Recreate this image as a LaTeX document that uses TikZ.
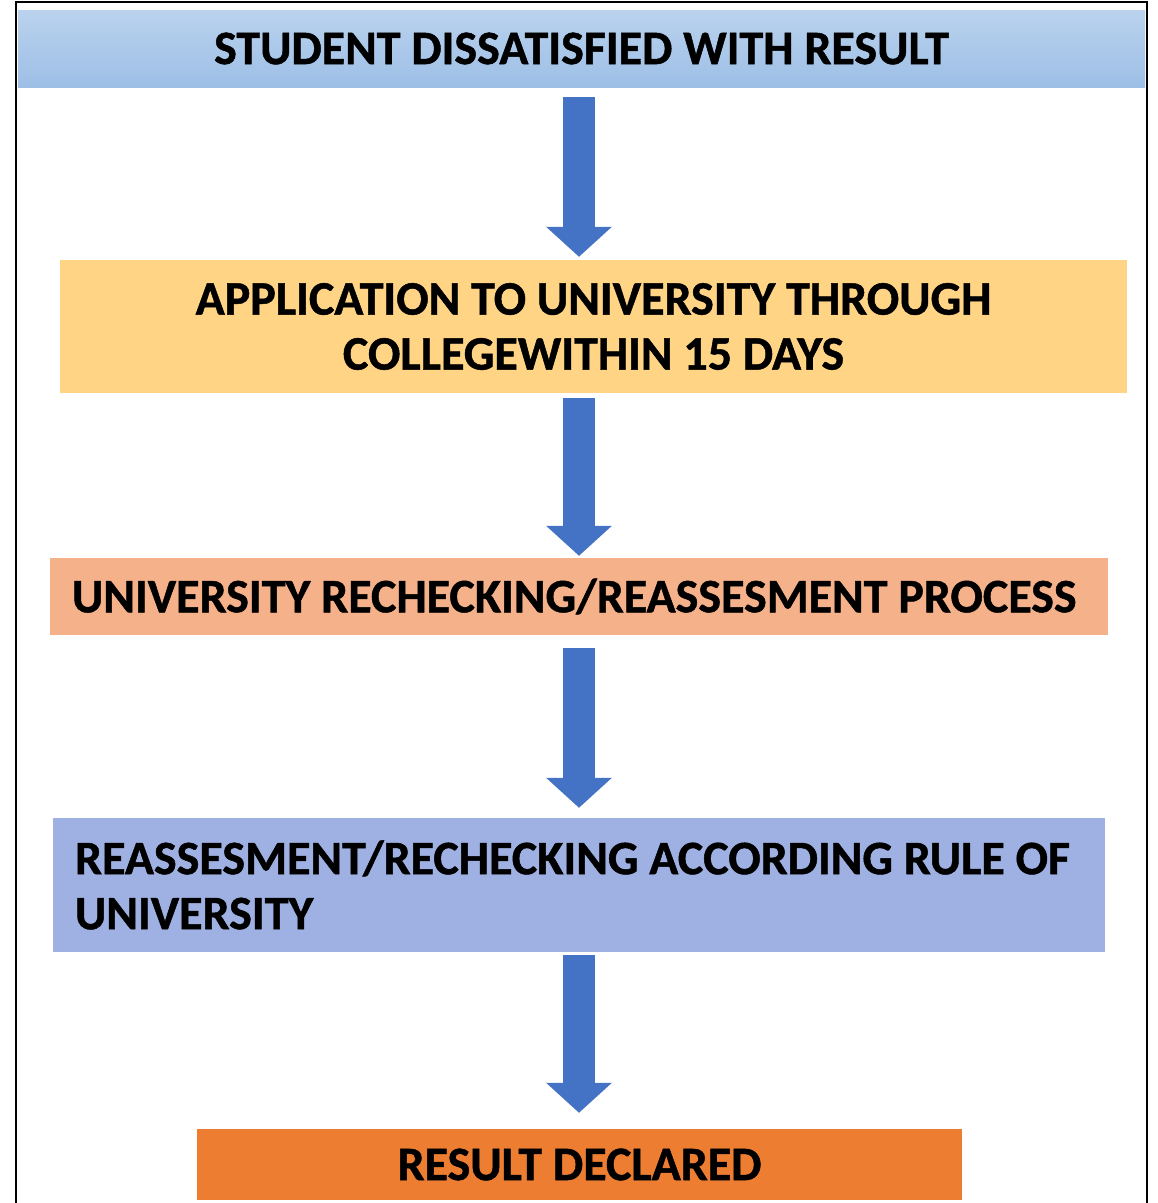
\documentclass[tikz,border=0pt]{standalone}
\usepackage{fontspec}
\setmainfont{Carlito}
\newfontfamily\stagefont{Carlito Bold}[FakeBold=1]
\usepackage{xcolor}
\usetikzlibrary{arrows.meta}
\usetikzlibrary{positioning, calc}

\definecolor{boxblue}{HTML}{9DBFE6}
\definecolor{boxyellow}{HTML}{FFD485}
\definecolor{boxsalmon}{HTML}{F5B189}
\definecolor{boxlavender}{HTML}{9FB0E2}
\definecolor{boxorange}{HTML}{ED7D31}
\definecolor{arrowblue}{HTML}{4472C4}

\begin{document}
\begin{tikzpicture}[x=1pt, y=-1pt,
        stage/.style={rectangle, inner sep=0pt, font=\fontsize{48}{55}\stagefont, text=black},
        flowarrow/.style={draw=arrowblue, line width=32pt, -{Triangle[width=64pt, length=30pt]}, arrowblue}]
        \useasboundingbox (0,0) rectangle (1158,1203);
        \fill[white] (0,0) rectangle (1158,1203);
        \draw[line width=2pt] (16,1203) |- (1147,2) -- (1147,1203);
        \coordinate (axis) at (579,0);

        \node[stage, top color=boxblue!70!white, bottom color=boxblue, minimum width=1127pt, minimum height=77pt] (dissatisfied) at (581.5,48.5) {STUDENT DISSATISFIED WITH RESULT};
        \node[stage, fill=boxyellow, minimum width=1067pt, minimum height=133pt, align=center] (application) at (593.5,326.5) {APPLICATION TO UNIVERSITY THROUGH\\COLLEGEWITHIN 15 DAYS};
        \node[stage, fill=boxsalmon, minimum width=1058pt, minimum height=77pt, text width=1014pt, inner xsep=22pt, align=flush left] (rechecking) at (579,596.5) {UNIVERSITY RECHECKING/REASSESMENT PROCESS};
        \node[stage, fill=boxlavender, minimum width=1052pt, minimum height=134pt, text width=1008pt, inner xsep=22pt, align=flush left] (reassesment) at (579,885) {REASSESMENT/RECHECKING ACCORDING RULE OF\\UNIVERSITY};
        \node[stage, fill=boxorange, minimum width=765pt, minimum height=71pt] (declared) at (579.5,1164.5) {RESULT DECLARED};

        \draw[flowarrow, shorten <=10pt, shorten >=3pt] (dissatisfied.south -| axis) -- (application.north -| axis);
        \draw[flowarrow, shorten <=5pt, shorten >=2pt] (application.south -| axis) -- (rechecking.north -| axis);
        \draw[flowarrow, shorten <=13pt, shorten >=10pt] (rechecking.south -| axis) -- (reassesment.north -| axis);
        \draw[flowarrow, shorten <=3pt, shorten >=16pt] (reassesment.south -| axis) -- (declared.north -| axis);
\end{tikzpicture}
\end{document}
